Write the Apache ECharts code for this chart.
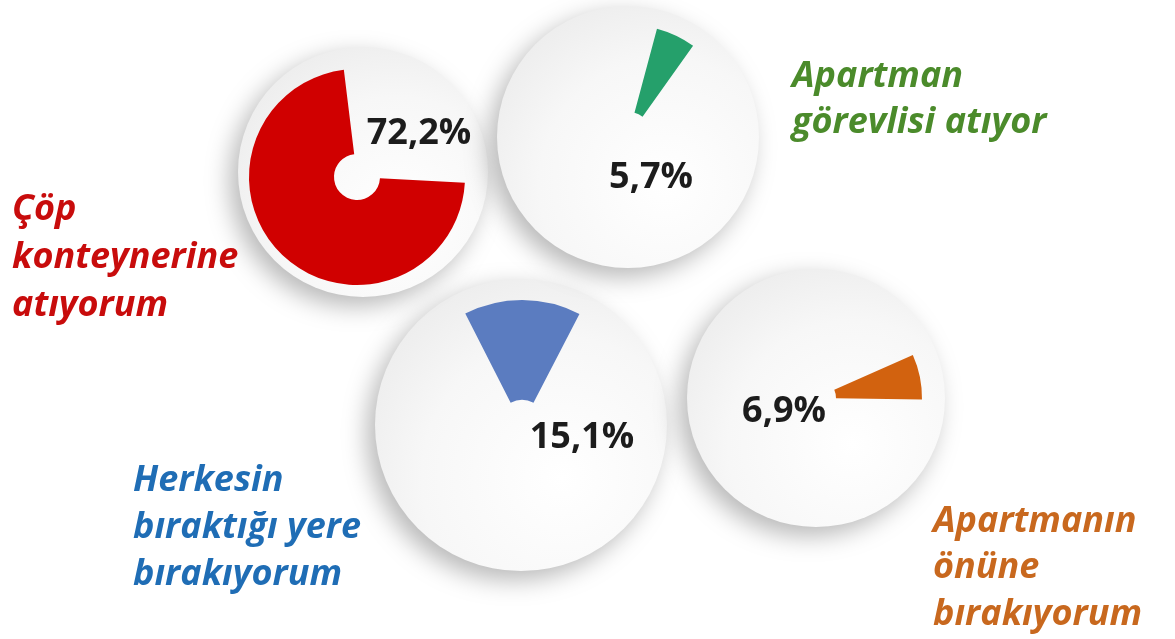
<!DOCTYPE html>
<html>
<head>
<meta charset="utf-8">
<script src="https://cdn.jsdelivr.net/npm/echarts@6/dist/echarts.min.js"></script>
<style>
  html, body { margin: 0; padding: 0; background: #ffffff; }
  #main { width: 1175px; height: 639px; }
</style>
</head>
<body>
<div id="main"></div>
<script>
  // data
  var categories = [
    ['Çöp', 'konteynerine', 'atıyorum'],
    ['Apartman', 'görevlisi atıyor'],
    ['Herkesin', 'bıraktığı yere', 'bırakıyorum'],
    ['Apartmanın', 'önüne', 'bırakıyorum']
  ];
  var values = [72.2, 5.7, 15.1, 6.9];

  // look of each circle (same order as the data)
  var wedgeColors = ['#d00000', '#25a06b', '#5b7cc0', '#d2620f'];
  var textColors = ['#c80c0c', '#4b8b2b', '#1f6db5', '#c8681e'];
  var discs = [
    { center: [363, 172], r: 125 },
    { center: [628, 137], r: 131 },
    { center: [521, 425], r: 146 },
    { center: [816, 398], r: 129 }
  ];
  var wedges = [
    { center: [357, 177], radius: [23, 108], start: 97, clockwise: false },
    { center: [628, 137], radius: [25, 112], start: 75, clockwise: true },
    { center: [522, 425], radius: [25, 125], start: 117, clockwise: true },
    { center: [816, 398], radius: [20, 106], start: 24, clockwise: true }
  ];
  var pctPos = [[419, 134], [651, 178], [582, 438], [784, 412]];
  var labelPos = [
    { x: 12, y: 186, lh: 48 },
    { x: 792, y: 54, lh: 46 },
    { x: 133, y: 457, lh: 47 },
    { x: 933, y: 498, lh: 46.5 }
  ];
  // drawing order back to front
  var order = [2, 3, 0, 1];

  var series = [];
  order.forEach(function (i) {
    series.push({
      type: 'pie',
      silent: true,
      center: discs[i].center,
      radius: [0, discs[i].r],
      label: { show: false },
      labelLine: { show: false },
      emphasis: { disabled: true },
      itemStyle: {
        color: new echarts.graphic.RadialGradient(0.64, 0.68, 0.8, [
          { offset: 0, color: '#ffffff' },
          { offset: 0.6, color: '#f7f7f7' },
          { offset: 1, color: '#ebebeb' }
        ]),
        shadowBlur: 24,
        shadowColor: 'rgba(0,0,0,0.28)',
        shadowOffsetX: -8,
        shadowOffsetY: 9
      },
      data: [{ value: 1, name: 'disc' }]
    });
    series.push({
      type: 'pie',
      silent: true,
      center: wedges[i].center,
      radius: wedges[i].radius,
      startAngle: wedges[i].start,
      clockwise: wedges[i].clockwise,
      label: { show: false },
      labelLine: { show: false },
      emphasis: { disabled: true },
      data: [
        { value: values[i], name: categories[i].join(' '), itemStyle: { color: wedgeColors[i] } },
        { value: 100 - values[i], name: 'rest', itemStyle: { color: 'rgba(0,0,0,0)' } }
      ]
    });
  });

  var graphics = [];
  values.forEach(function (v, i) {
    graphics.push({
      type: 'text',
      x: pctPos[i][0],
      y: pctPos[i][1],
      z: 10,
      style: {
        text: v.toFixed(1).replace('.', ',') + '%',
        fill: '#1c1c1c',
        font: 'bold 36px "Open Sans"',
        align: 'center',
        verticalAlign: 'middle'
      }
    });
    graphics.push({
      type: 'text',
      x: labelPos[i].x,
      y: labelPos[i].y,
      z: 10,
      style: {
        text: categories[i].join('\n'),
        fill: textColors[i],
        font: 'italic bold 36px "Open Sans"',
        lineHeight: labelPos[i].lh,
        align: 'left',
        verticalAlign: 'top'
      }
    });
  });

  var myChart = echarts.init(document.getElementById('main'));
  myChart.setOption({
    backgroundColor: '#ffffff',
    animation: false,
    series: series,
    graphic: graphics
  });
</script>
</body>
</html>
